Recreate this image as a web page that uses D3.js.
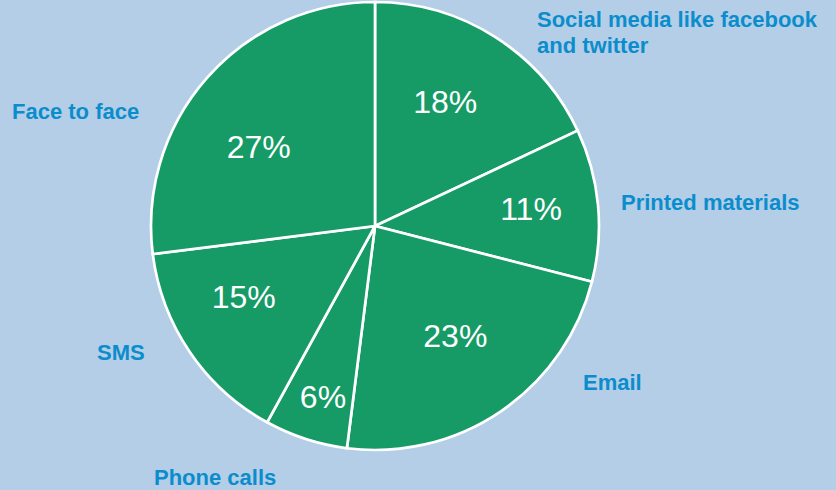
<!DOCTYPE html>
<html><head><meta charset="utf-8">
<script src="https://cdn.jsdelivr.net/npm/d3@7"></script>
<style>
html,body{margin:0;padding:0;background:#b3cee6;}
svg{display:block;}
</style></head>
<body>
<svg id="chart" width="836" height="490"></svg>
<script>
// Data
const categories = ["Social media like facebook and twitter", "Printed materials", "Email", "Phone calls", "SMS", "Face to face"];
const values = [18, 11, 23, 6, 15, 27];
const valueLabels = ["18%", "11%", "23%", "6%", "15%", "27%"];

// Layout (not data)
const labelLines = [["Social media like facebook", "and twitter"], ["Printed materials"], ["Email"], ["Phone calls"], ["SMS"], ["Face to face"]];
const outerLabelPos = [[537, 27], [621, 210], [583, 390], [154, 485], [97, 360], [12, 119]];
const pctRadius = [143, 157, 136, 178, 149, 141];
const pctAngleShift = [-3, -1, -2, -1, 6, -7];

const W = 836, H = 490, cx = 375, cy = 226, R = 224;
const svg = d3.select("#chart");
svg.append("rect").attr("width", W).attr("height", H).attr("fill", "#b3cee6");
const g = svg.append("g").attr("transform", `translate(${cx},${cy})`);

const pie = d3.pie().sort(null).value(d => d);
const arcs = pie(values);
const arc = d3.arc().innerRadius(0).outerRadius(R);

g.selectAll("path.slice").data(arcs).join("path")
  .attr("class", "slice")
  .attr("d", arc)
  .attr("fill", "#169b66")
  .attr("stroke", "#ffffff")
  .attr("stroke-width", 2.7)
  .attr("stroke-linejoin", "miter");

g.selectAll("text.pct").data(arcs).join("text")
  .attr("class", "pct")
  .attr("x", (d, i) => { const a = (d.startAngle + d.endAngle) / 2 + pctAngleShift[i] * Math.PI / 180; return pctRadius[i] * Math.sin(a); })
  .attr("y", (d, i) => { const a = (d.startAngle + d.endAngle) / 2 + pctAngleShift[i] * Math.PI / 180; return -pctRadius[i] * Math.cos(a); })
  .attr("dy", "0.36em")
  .attr("text-anchor", "middle")
  .attr("font-family", "'Liberation Sans', Arial, sans-serif")
  .attr("font-size", 32)
  .attr("fill", "#ffffff")
  .text((d, i) => valueLabels[i]);

const lbl = svg.selectAll("text.cat").data(categories).join("text")
  .attr("class", "cat")
  .attr("x", (d, i) => outerLabelPos[i][0])
  .attr("y", (d, i) => outerLabelPos[i][1])
  .attr("font-family", "'Liberation Sans', Arial, sans-serif")
  .attr("font-weight", "bold")
  .attr("font-size", 22)
  .attr("fill", "#0b8dcd");
lbl.each(function(d, i) {
  const t = d3.select(this);
  labelLines[i].forEach((line, j) => {
    t.append("tspan").attr("x", outerLabelPos[i][0]).attr("dy", j === 0 ? 0 : 26).text(line);
  });
});
</script>
</body></html>
